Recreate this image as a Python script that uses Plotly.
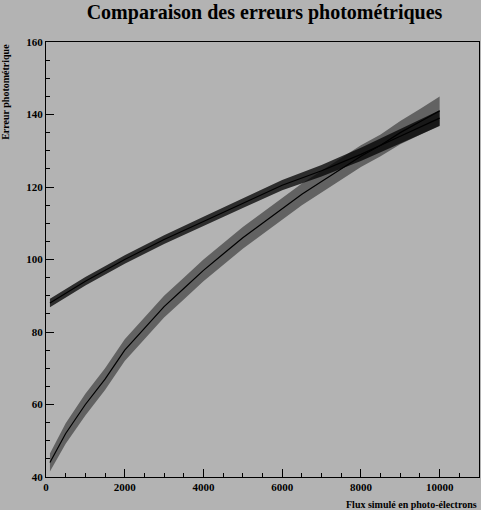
import plotly.graph_objects as go

# band: flux, centre, half width
upper_x = [100, 1000, 2000, 3000, 4000, 5000, 6000, 7000, 8000, 9000, 10000]
upper_y = [88, 94, 100, 105.5, 110.5, 115.5, 120.5, 124.5, 129, 134, 139]
upper_w = [1.2, 1.2, 1.2, 1.2, 1.3, 1.3, 1.4, 1.6, 1.8, 2.0, 2.2]

lower_x = [100, 500, 1000, 1500, 2000, 2500, 3000, 3500, 4000, 4500, 5000, 5500,
           6000, 6500, 7000, 7500, 8000, 8500, 9000, 9500, 10000]
lower_y = [44, 52, 60, 67, 75, 81, 87, 92, 97, 101.5, 106, 110, 114, 118,
           121.5, 125, 128.5, 131.5, 135, 138, 141]
lower_w = [2.5, 2.8, 3.0, 3.0, 3.0, 3.0, 3.0, 3.0, 3.0, 3.0, 3.0, 3.0,
           3.0, 3.0, 3.0, 3.0, 3.0, 3.0, 3.2, 3.5, 4.0]

x_ticks = [0, 2000, 4000, 6000, 8000, 10000]
y_ticks = [40, 60, 80, 100, 120, 140, 160]


def band(fig, xs, ys, ws, alpha):
    hi = [y + w for y, w in zip(ys, ws)]
    lo = [y - w for y, w in zip(ys, ws)]
    fig.add_scatter(x=xs + xs[::-1], y=hi + lo[::-1], fill='toself',
                    fillcolor=f'rgba(0,0,0,{alpha})', line=dict(width=0),
                    mode='lines', hoverinfo='skip', showlegend=False)
    fig.add_scatter(x=xs, y=ys, mode='lines', line=dict(color='black', width=1.2),
                    showlegend=False)


fig = go.Figure()
band(fig, lower_x, lower_y, lower_w, 0.45)
band(fig, upper_x, upper_y, upper_w, 0.75)

font = 'Liberation Serif, Times New Roman, serif'
fig.update_layout(
    width=481, height=510,
    paper_bgcolor='#b3b3b3', plot_bgcolor='#b3b3b3',
    margin=dict(l=46, r=2, t=42, b=33, autoexpand=False),
    font=dict(family=font, size=11, color='black'),
    title=dict(text='<b>Comparaison des erreurs photométriques</b>', x=0.55, xref='container',
               y=0.99, xanchor='center', yanchor='top', font=dict(size=20)),
)
fig.update_xaxes(range=[0, 11000], tickvals=x_ticks,
                 ticktext=[f'<b>{v}</b>' for v in x_ticks], automargin=False,
                 ticks='inside', ticklen=8, tickcolor='black',
                 minor=dict(dtick=500, ticks='inside', ticklen=4, tickcolor='black'),
                 showgrid=False, zeroline=False, showline=True, linecolor='black', mirror=True,
                 tickfont=dict(size=11, family=font))
fig.update_yaxes(range=[40, 160], tickvals=y_ticks,
                 ticktext=[f'<b>{v}</b>' for v in y_ticks], automargin=False,
                 ticks='inside', ticklen=8, tickcolor='black',
                 minor=dict(dtick=5, ticks='inside', ticklen=4, tickcolor='black'),
                 showgrid=False, zeroline=False, showline=True, linecolor='black', mirror=True,
                 tickfont=dict(size=11, family=font))
fig.add_annotation(text='<b>Flux simulé en photo-électrons</b>', xref='paper', yref='paper',
                   x=1, y=-0.045, xanchor='right', yanchor='top', showarrow=False,
                   font=dict(size=10))
fig.add_annotation(text='<b>Erreur photométrique</b>', xref='paper', yref='paper',
                   x=-0.095, y=1, xanchor='center', yanchor='top', textangle=-90,
                   showarrow=False, font=dict(size=10))
fig.write_html('out.html', config={'displayModeBar': False},
               post_script="document.body.style.margin='0';")
